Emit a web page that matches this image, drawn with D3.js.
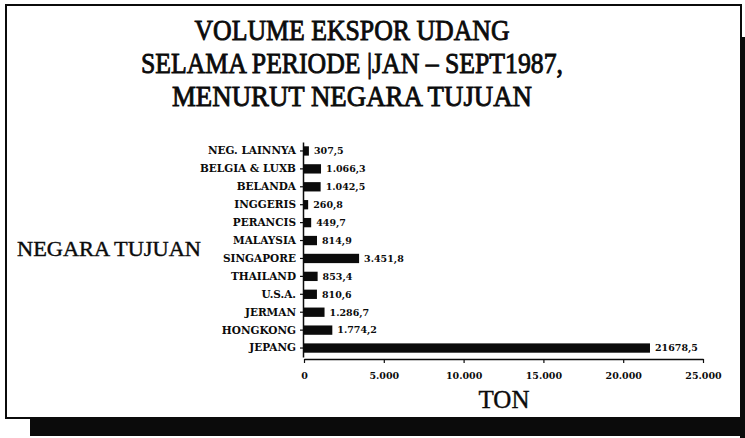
<!DOCTYPE html>
<html>
<head>
<meta charset="utf-8">
<script src="https://cdn.jsdelivr.net/npm/d3@7"></script>
<style>
  html, body { margin: 0; padding: 0; background: #fff; }
  svg { display: block; }
</style>
</head>
<body>
<svg id="chart" width="745" height="438"></svg>
<script>
// Shrimp export volume, Jan–Sept 1987, by destination country (tonnes)
const categories = ["NEG. LAINNYA", "BELGIA & LUXB", "BELANDA", "INGGERIS", "PERANCIS", "MALAYSIA",
                    "SINGAPORE", "THAILAND", "U.S.A.", "JERMAN", "HONGKONG", "JEPANG"];
const volumes = [307.5, 1066.3, 1042.5, 260.8, 449.7, 814.9, 3451.8, 853.4, 810.6, 1286.7, 1774.2, 21678.5];
const volumeLabels = ["307,5", "1.066,3", "1.042,5", "260,8", "449,7", "814,9",
                      "3.451,8", "853,4", "810,6", "1.286,7", "1.774,2", "21678,5"];
const xTicks = [0, 5000, 10000, 15000, 20000, 25000];
const xTickLabels = ["0", "5.000", "10.000", "15.000", "20.000", "25.000"];
const titleLines = ["VOLUME EKSPOR UDANG", "SELAMA PERIODE |JAN – SEPT1987,", "MENURUT NEGARA TUJUAN"];

const svg = d3.select("#chart");
const ink = "#0b0b0b";

// Drop shadow (right and bottom) behind the framed panel
svg.append("rect").attr("x", 740).attr("y", 37).attr("width", 5).attr("height", 401).attr("fill", ink);
svg.append("rect").attr("x", 30).attr("y", 419).attr("width", 715).attr("height", 17).attr("fill", ink);

// Frame
svg.append("rect")
  .attr("x", 6).attr("y", 5).attr("width", 735).attr("height", 413)
  .attr("fill", "#fff").attr("stroke", ink).attr("stroke-width", 2);

// Title
const serif = "'Liberation Serif', 'Times New Roman', serif";
const titleY = [40, 73, 106];
const titleW = [315, 422, 360];
svg.append("g").selectAll("text").data(titleLines).join("text")
  .attr("x", 352)
  .attr("y", (d, i) => titleY[i])
  .attr("text-anchor", "middle")
  .attr("font-family", serif)
  .attr("font-size", 30)
  .attr("fill", ink)
  .attr("stroke", ink).attr("stroke-width", 0.9)
  .attr("textLength", (d, i) => titleW[i])
  .attr("lengthAdjust", "spacingAndGlyphs")
  .text(d => d);

// Scales
const x = d3.scaleLinear().domain([0, 25000]).range([304, 703]);
const y = d3.scaleBand().domain(categories).range([142, 357]).paddingInner(0.48).paddingOuter(0.24);

const labelFont = "'DejaVu Serif', serif";

// Bars
svg.append("g").selectAll("rect").data(categories).join("rect")
  .attr("x", x(0))
  .attr("y", d => y(d))
  .attr("width", (d, i) => x(volumes[i]) - x(0))
  .attr("height", y.bandwidth())
  .attr("fill", ink);

// Value labels
svg.append("g").selectAll("text").data(categories).join("text")
  .attr("x", (d, i) => x(volumes[i]) + 5)
  .attr("y", d => y(d) + y.bandwidth() / 2)
  .attr("dy", "0.35em")
  .attr("font-family", labelFont)
  .attr("font-weight", "bold")
  .attr("font-size", 9.5)
  .attr("fill", ink)
  .text((d, i) => volumeLabels[i]);

// Category axis
const yAxis = svg.append("g")
  .attr("transform", `translate(${x(0) - 1},0)`)
  .call(d3.axisLeft(y).tickSizeInner(3).tickSizeOuter(0).tickPadding(4));
yAxis.select(".domain").attr("stroke", ink).attr("stroke-width", 1.5);
yAxis.selectAll(".tick line").attr("stroke", ink).attr("stroke-width", 1.2);
yAxis.selectAll(".tick text")
  .attr("font-family", labelFont)
  .attr("font-weight", "bold")
  .attr("font-size", 10.5)
  .attr("fill", ink);

// Value axis
const xAxis = svg.append("g")
  .attr("transform", "translate(0,359)")
  .call(d3.axisBottom(x).tickValues(xTicks).tickFormat((d, i) => xTickLabels[i])
    .tickSizeInner(4).tickSizeOuter(0).tickPadding(9));
xAxis.select(".domain").attr("stroke", ink).attr("stroke-width", 1.5);
xAxis.selectAll(".tick line").attr("stroke", ink).attr("stroke-width", 1.2);
xAxis.selectAll(".tick text")
  .attr("font-family", labelFont)
  .attr("font-weight", "bold")
  .attr("font-size", 9.5)
  .attr("fill", ink);

// Axis titles
svg.append("text")
  .attr("x", 17).attr("y", 256)
  .attr("font-family", serif)
  .attr("font-size", 21)
  .attr("fill", ink).attr("stroke", ink).attr("stroke-width", 0.4)
  .attr("textLength", 184)
  .attr("lengthAdjust", "spacingAndGlyphs")
  .text("NEGARA TUJUAN");

svg.append("text")
  .attr("x", 504).attr("y", 408)
  .attr("text-anchor", "middle")
  .attr("font-family", serif)
  .attr("font-size", 25)
  .attr("fill", ink).attr("stroke", ink).attr("stroke-width", 0.4)
  .text("TON");
</script>
</body>
</html>
